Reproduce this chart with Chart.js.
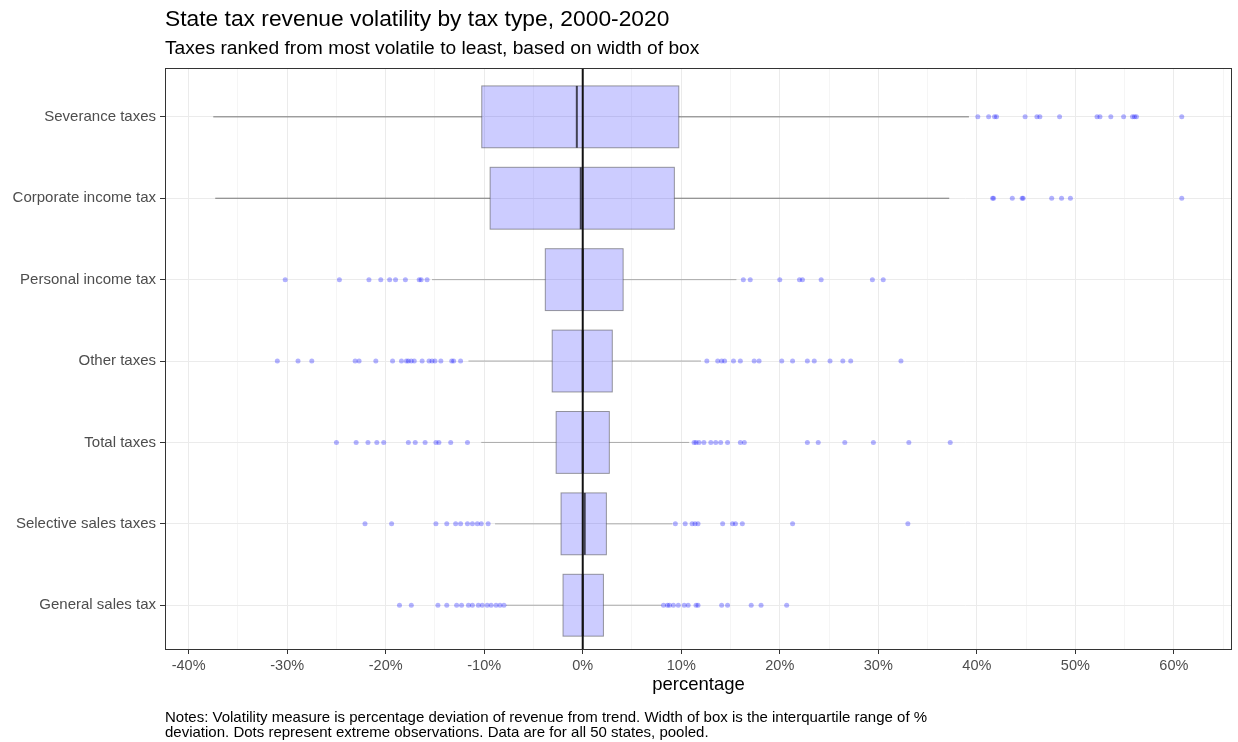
<!DOCTYPE html>
<html>
<head>
<meta charset="utf-8">
<script src="https://cdn.jsdelivr.net/npm/chart.js@4.4.0/dist/chart.umd.min.js"></script>
<style>
  body { margin: 0; background: #fff; font-family: "Liberation Sans", Arial, sans-serif; }
  #wrap { position: relative; width: 1238px; height: 742px; }
  canvas { position: absolute; left: 0; top: 0; }
  .t { position: absolute; left: 165px; color: #000; white-space: nowrap; }
</style>
</head>
<body>
<div id="wrap">
  <canvas id="c" width="1238" height="742"></canvas>
  <div class="t" style="top:5px;font-size:22.8px;">State tax revenue volatility by tax type, 2000-2020</div>
  <div class="t" style="top:37px;font-size:19.2px;">Taxes ranked from most volatile to least, based on width of box</div>
  <div class="t" style="top:709px;font-size:15px;line-height:15px;">Notes: Volatility measure is percentage deviation of revenue from trend. Width of box is the interquartile range of %<br>deviation. Dots represent extreme observations. Data are for all 50 states, pooled.</div>
</div>
<script>
// tax types, top to bottom
const taxes = ['Severance taxes', 'Corporate income tax', 'Personal income tax', 'Other taxes',
               'Total taxes', 'Selective sales taxes', 'General sales tax'];
// box stats (percent)
const whiskerLow = [-37.5, -37.3, -15.3, -11.6, -10.3, -8.9, -7.8];
const q1 = [-10.25, -9.4, -3.8, -3.1, -2.7, -2.2, -2.0];
const median = [-0.6, -0.2, 0, 0, 0, 0.2, 0];
const q3 = [9.75, 9.3, 4.1, 3.0, 2.7, 2.4, 2.1];
const whiskerHigh = [39.2, 37.2, 15.6, 12.0, 10.8, 9.1, 8.0];
// extreme observations per tax type
const outliers = [
  [40.1, 41.2, 41.8, 42.0, 44.9, 46.1, 46.4, 48.4, 52.2, 52.5, 53.6, 54.9, 55.8, 56.0, 56.2, 60.8],
  [41.6, 41.7, 43.6, 44.6, 44.7, 47.6, 48.6, 49.5, 60.8],
  [-30.2, -24.7, -21.7, -20.5, -19.6, -19.0, -18.0, -16.6, -16.4, -15.8,
   16.3, 17.0, 20.0, 22.0, 22.3, 24.2, 29.4, 30.5],
  [-31.0, -28.9, -27.5, -23.1, -22.7, -21.0, -19.3, -18.4, -17.9, -17.7, -17.4, -17.1, -16.3, -15.6, -15.3, -15.0, -14.4, -13.3, -13.1, -12.4,
   12.6, 13.7, 14.1, 14.4, 15.3, 16.0, 17.4, 17.9, 20.2, 21.3, 22.8, 23.5, 25.1, 26.4, 27.2, 32.3],
  [-25.0, -23.0, -21.8, -20.9, -20.2, -17.7, -17.0, -16.0, -14.9, -14.6, -13.4, -11.7,
   11.3, 11.5, 11.8, 12.3, 13.0, 13.5, 14.0, 14.7, 16.0, 16.4, 22.8, 23.9, 26.6, 29.5, 33.1, 37.3],
  [-22.1, -19.4, -14.9, -13.8, -12.9, -12.4, -11.7, -11.2, -10.7, -10.3, -9.6,
   9.4, 10.4, 11.1, 11.4, 11.7, 14.2, 15.2, 15.5, 16.2, 21.3, 33.0],
  [-18.6, -17.4, -14.7, -13.8, -12.8, -12.3, -11.6, -11.2, -10.6, -10.2, -9.7, -9.3, -8.8, -8.4, -8.0,
   8.2, 8.6, 8.8, 9.2, 9.7, 10.3, 10.7, 11.5, 11.7, 14.1, 14.7, 17.1, 18.1, 20.7]
];
const xTicks = [-40, -30, -20, -10, 0, 10, 20, 30, 40, 50, 60];

const points = [];
outliers.forEach((arr, i) => arr.forEach(v => points.push({ x: v, y: i })));

// boxes, whiskers, zero line and panel border drawn via the chart scales
const boxPlugin = {
  id: 'boxes',
  beforeDatasetsDraw(chart) {
    const { ctx, scales: { x, y } } = chart;
    const half = (y.getPixelForValue(0.38) - y.getPixelForValue(0));
    ctx.save();
    taxes.forEach((t, i) => {
      const cy = y.getPixelForValue(i);
      ctx.strokeStyle = i < 2 ? '#777' : '#aaa';
      ctx.lineWidth = 1;
      ctx.beginPath();
      ctx.moveTo(x.getPixelForValue(whiskerLow[i]), cy);
      ctx.lineTo(x.getPixelForValue(q1[i]), cy);
      ctx.moveTo(x.getPixelForValue(q3[i]), cy);
      ctx.lineTo(x.getPixelForValue(whiskerHigh[i]), cy);
      ctx.stroke();
      const x1 = x.getPixelForValue(q1[i]), x2 = x.getPixelForValue(q3[i]);
      ctx.fillStyle = 'rgba(0,0,255,0.2)';
      ctx.fillRect(x1, cy - half, x2 - x1, 2 * half);
      ctx.strokeStyle = 'rgba(60,60,60,0.5)';
      ctx.strokeRect(x1, cy - half, x2 - x1, 2 * half);
      ctx.strokeStyle = 'rgba(30,30,40,0.8)';
      ctx.lineWidth = 2;
      ctx.beginPath();
      ctx.moveTo(x.getPixelForValue(median[i]), cy - half);
      ctx.lineTo(x.getPixelForValue(median[i]), cy + half);
      ctx.stroke();
    });
    ctx.restore();
  },
  afterDatasetsDraw(chart) {
    const { ctx, chartArea: a, scales: { x } } = chart;
    ctx.save();
    ctx.strokeStyle = '#111';
    ctx.lineWidth = 2;
    ctx.beginPath();
    ctx.moveTo(x.getPixelForValue(0), a.top);
    ctx.lineTo(x.getPixelForValue(0), a.bottom);
    ctx.stroke();
    ctx.strokeStyle = '#333';
    ctx.lineWidth = 1;
    ctx.strokeRect(a.left + 0.5, a.top + 0.5, a.right - a.left - 1, a.bottom - a.top - 1);
    ctx.restore();
  }
};

new Chart(document.getElementById('c'), {
  type: 'scatter',
  data: {
    datasets: [{
      data: points,
      backgroundColor: 'rgba(0,0,255,0.3)',
      borderWidth: 0,
      pointRadius: 2.5,
      pointHoverRadius: 2.5
    }]
  },
  options: {
    responsive: false,
    animation: false,
    layout: { padding: { top: 68, right: 6, bottom: 42, left: 0 } },
    plugins: { legend: { display: false }, tooltip: { enabled: false } },
    scales: {
      x: {
        type: 'linear', min: -42.4, max: 65.9,
        afterBuildTicks: s => { s.ticks = []; for (let v = -40; v <= 65; v += 5) s.ticks.push({ value: v }); },
        afterFit: s => { s.height = 50; },
        grid: {
          color: c => (c.tick && c.tick.value % 10 === 0) ? '#ebebeb' : '#f5f5f5',
          tickLength: 4, tickColor: c => (c.tick && c.tick.value % 10 === 0) ? '#333' : 'rgba(0,0,0,0)',
          drawTicks: true
        },
        border: { display: false },
        ticks: {
          autoSkip: false, maxRotation: 0, color: '#4d4d4d', font: { size: 14.5 }, padding: 3,
          callback: v => xTicks.includes(v) ? v + '%' : ''
        },
        title: { display: true, text: 'percentage', color: '#000', font: { size: 18.5 }, padding: { top: 2 } }
      },
      y: {
        type: 'linear', min: -0.6, max: 6.55, reverse: true,
        afterBuildTicks: s => { s.ticks = taxes.map((t, i) => ({ value: i })); },
        afterFit: s => { s.width = 165; },
        grid: { color: '#ebebeb', tickLength: 5, tickColor: '#333' },
        border: { display: false },
        ticks: { color: '#4d4d4d', font: { size: 15 }, padding: 4, callback: v => taxes[v] }
      }
    }
  },
  plugins: [boxPlugin]
});
</script>
</body>
</html>
